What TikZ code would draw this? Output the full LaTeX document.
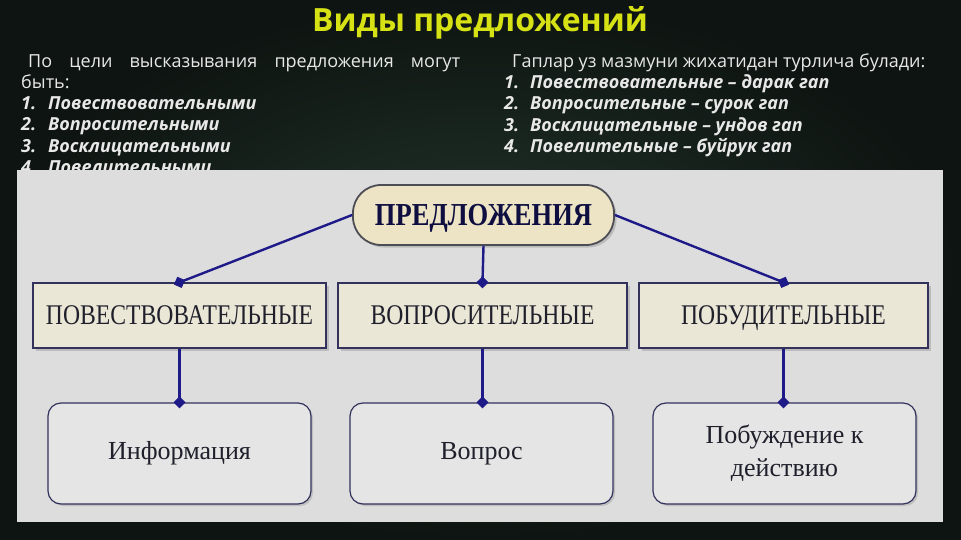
\documentclass[tikz,border=0pt]{standalone}
\usepackage{fontspec}
\setmainfont{Liberation Serif}
\newfontfamily\slidefont{Open Sans}
\newfontfamily\boxfont[FakeStretch=0.83]{Liberation Serif}
\usetikzlibrary{arrows.meta}
\usetikzlibrary{shadows}

\definecolor{slidebg}{RGB}{14,20,17}
\definecolor{slideglow}{RGB}{34,52,43}
\definecolor{titleyellow}{RGB}{214,226,20}
\definecolor{slidetext}{RGB}{232,232,232}
\definecolor{panelgray}{RGB}{221,221,221}
\definecolor{aimgray}{RGB}{229,229,229}
\definecolor{boxbeige}{RGB}{235,231,214}
\definecolor{rootbeige}{RGB}{236,228,196}
\definecolor{linknavy}{RGB}{30,26,135}
\definecolor{boxedge}{RGB}{50,50,92}
\definecolor{inkdark}{RGB}{32,32,44}

\begin{document}
\begin{tikzpicture}[x=1pt,y=-1pt,
  line/.style={anchor=base west,inner sep=0pt,text=slidetext,font=\slidefont\fontsize{18}{21}\selectfont},
  item/.style={line,font=\slidefont\bfseries\itshape\fontsize{18}{21}\selectfont},
  kindbox/.style={draw=boxedge,line width=1.3pt,fill=boxbeige,minimum width=293pt,minimum height=65pt,inner sep=0pt,text height=18.5pt,text depth=0pt,text=inkdark,font=\boxfont\fontsize{28.5}{30}\selectfont,drop shadow={shadow xshift=2.5pt,shadow yshift=-2.5pt,opacity=0.35}},
  aimbox/.style={draw=boxedge,line width=1.2pt,fill=aimgray,rounded corners=13pt,minimum width=263pt,minimum height=101pt,inner sep=0pt,text=inkdark,align=center,font=\fontsize{26}{33}\selectfont,drop shadow={shadow xshift=2pt,shadow yshift=-2pt,opacity=0.3}},
  link/.style={draw=linknavy,line width=2.4pt,shorten >=-6pt,-{Diamond[length=12pt,width=12pt]}}]

% slide background
\fill[slidebg] (0,0) rectangle (961,540);
\shade[inner color=slideglow,outer color=slidebg] (0,0) rectangle (961,540);

\node[font=\slidefont\bfseries\fontsize{32}{34}\selectfont,text=titleyellow] (title) at (480,23) {Виды предложений};

% left column
\node[line] (lp1) at (28,68) {\makebox[432pt][s]{По цели высказывания предложения могут}};
\node[line] (lp2) at (21,89) {быть:};
\node[item] (ln1) at (21,110) {1.};
\node[item] (lt1) at (48,110) {Повествовательными};
\node[item] (ln2) at (21,131) {2.};
\node[item] (lt2) at (48,131) {Вопросительными};
\node[item] (ln3) at (21,153) {3.};
\node[item] (lt3) at (48,153) {Восклицательными};
\node[item] (ln4) at (21,174) {4.};
\node[item] (lt4) at (48,174) {Повелительными};

% right column
\node[line] (rp1) at (512,68) {Гаплар уз мазмуни жихатидан турлича булади:};
\node[item] (rn1) at (504,89) {1.};
\node[item] (rt1) at (530,89) {Повествовательные – дарак гап};
\node[item] (rn2) at (504,110) {2.};
\node[item] (rt2) at (530,110) {Вопросительные – сурок гап};
\node[item] (rn3) at (504,132) {3.};
\node[item] (rt3) at (530,132) {Восклицательные – ундов гап};
\node[item] (rn4) at (504,153) {4.};
\node[item] (rt4) at (530,153) {Повелительные – буйрук гап};

% picture panel
\fill[panelgray] (17,170) rectangle (943,522);

\node[draw=inkdark!80,line width=1.8pt,fill=rootbeige,rounded corners=28pt,minimum width=261pt,minimum height=60pt,inner sep=0pt,text height=21pt,text depth=0pt,text=inkdark!70!blue!60!black,font=\boxfont\bfseries\fontsize{32}{34}\selectfont,drop shadow={shadow xshift=2.5pt,shadow yshift=-2.5pt,opacity=0.35}] (root) at (483.5,215) {ПРЕДЛОЖЕНИЯ};

\node[kindbox] (narr) at (179.5,315.5) {ПОВЕСТВОВАТЕЛЬНЫЕ};
\node[kindbox,minimum width=289pt] (ques) at (482.5,315.5) {ВОПРОСИТЕЛЬНЫЕ};
\node[kindbox,minimum width=289pt] (incen) at (783.5,315.5) {ПОБУДИТЕЛЬНЫЕ};

\node[aimbox] (info) at (179.5,453.5) {Информация};
\node[aimbox] (ask) at (481.5,453.5) {Вопрос};
\node[aimbox] (act) at (784.5,453.5) {Побуждение к\\действию};

\draw[link] (root.west) -- (narr.north);
\draw[link] (root.south) -- (ques.north);
\draw[link] (root.east) -- (incen.north);
\draw[link] (narr.south) -- (info.north);
\draw[link] (ques.south) -- (ques.south |- ask.north);
\draw[link] (incen.south) -- (incen.south |- act.north);

\end{tikzpicture}
\end{document}
